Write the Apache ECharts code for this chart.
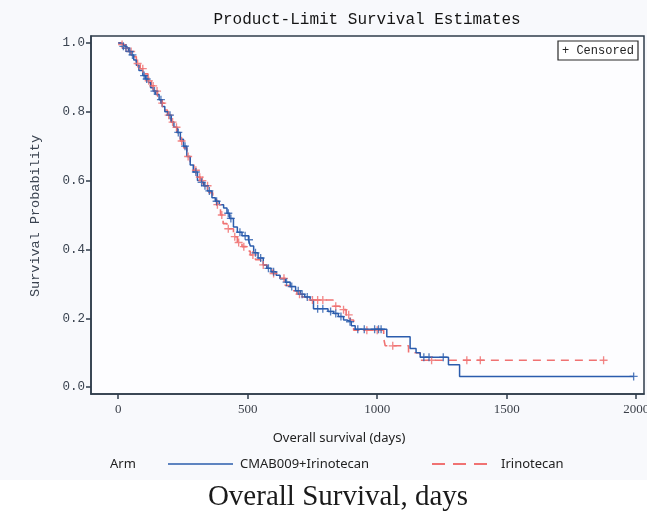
<!DOCTYPE html>
<html>
<head>
<meta charset="utf-8">
<script src="https://cdn.jsdelivr.net/npm/echarts@6/dist/echarts.min.js"></script>
<style>html,body{margin:0;padding:0;background:#fff}#c{width:647px;height:512px}</style>
</head>
<body>
<div id="c"></div>
<script>
// ---- data ----
const xTicks = [0, 500, 1000, 1500, 2000];
const yTicks = [0, 0.2, 0.4, 0.6, 0.8, 1.0];
const armNames = ['CMAB009+Irinotecan', 'Irinotecan'];

// Kaplan-Meier step points [day, survival]
const blueSteps = [[0,1.0],[10,0.995],[20,0.99],[30,0.985],[40,0.975],[50,0.965],[60,0.95],[70,0.935],[80,0.92],[95,0.905],[105,0.895],[117,0.885],[125,0.87],[135,0.86],[145,0.85],[158,0.835],[170,0.815],[180,0.8],[193,0.79],[205,0.77],[215,0.755],[227,0.74],[240,0.72],[252,0.7],[265,0.67],[278,0.645],[290,0.625],[306,0.6],[318,0.595],[330,0.585],[345,0.57],[362,0.55],[375,0.54],[390,0.53],[407,0.52],[420,0.505],[430,0.49],[445,0.465],[460,0.45],[478,0.44],[503,0.428],[510,0.41],[523,0.39],[540,0.375],[560,0.355],[574,0.345],[590,0.335],[610,0.325],[625,0.315],[645,0.305],[664,0.292],[685,0.28],[703,0.27],[720,0.262],[741,0.252],[754,0.228],[810,0.22],[832,0.214],[850,0.205],[870,0.195],[883,0.19],[900,0.178],[915,0.168],[1037,0.146],[1127,0.112],[1150,0.1],[1166,0.087],[1275,0.065],[1318,0.031],[1990,0.031]];
const blueCensored = [[20,0.99],[30,0.985],[45,0.975],[55,0.965],[100,0.905],[110,0.895],[140,0.86],[165,0.835],[200,0.79],[232,0.74],[258,0.7],[300,0.625],[322,0.595],[335,0.585],[352,0.57],[380,0.54],[425,0.505],[435,0.49],[470,0.45],[490,0.44],[505,0.428],[530,0.39],[550,0.375],[580,0.345],[600,0.335],[650,0.305],[670,0.292],[695,0.28],[710,0.27],[730,0.262],[770,0.228],[790,0.228],[820,0.22],[840,0.214],[860,0.205],[895,0.19],[925,0.168],[950,0.168],[990,0.168],[1005,0.168],[1015,0.168],[1180,0.087],[1200,0.087],[1255,0.087],[1990,0.031]];

const redSteps = [[0,1.0],[12,0.995],[25,0.985],[40,0.975],[55,0.96],[70,0.94],[85,0.925],[100,0.91],[115,0.89],[128,0.875],[140,0.86],[152,0.845],[165,0.825],[178,0.805],[190,0.79],[203,0.77],[215,0.755],[228,0.735],[240,0.715],[253,0.695],[265,0.67],[278,0.65],[292,0.63],[305,0.61],[318,0.6],[332,0.585],[350,0.565],[365,0.545],[380,0.53],[387,0.52],[395,0.5],[405,0.475],[420,0.46],[445,0.437],[460,0.42],[478,0.408],[495,0.395],[510,0.384],[530,0.37],[550,0.355],[574,0.34],[595,0.33],[625,0.316],[645,0.295],[664,0.28],[690,0.27],[710,0.262],[730,0.253],[830,0.235],[857,0.225],[880,0.21],[896,0.195],[909,0.165],[1025,0.141],[1031,0.12],[1121,0.1],[1166,0.078],[1874,0.078]];
const redCensored = [[15,0.995],[30,0.985],[50,0.975],[75,0.94],[95,0.925],[118,0.89],[135,0.875],[150,0.86],[170,0.825],[195,0.79],[210,0.77],[225,0.755],[245,0.715],[270,0.67],[300,0.63],[315,0.61],[325,0.6],[345,0.585],[383,0.53],[400,0.5],[425,0.46],[450,0.437],[465,0.42],[485,0.408],[520,0.384],[560,0.355],[600,0.33],[640,0.316],[700,0.27],[750,0.253],[770,0.253],[790,0.253],[840,0.235],[870,0.225],[890,0.21],[960,0.165],[1000,0.165],[1060,0.12],[1210,0.078],[1346,0.078],[1398,0.078],[1874,0.078]];

// ---- styles ----
const BLUE = '#2b5cad';
const RED = '#f07272';
const AXIS = '#2f3d4b';
const PLUS = 'path://M-1,-6H1V-1H6V1H1V6H-1V1H-6V-1H-1Z';

const chart = echarts.init(document.getElementById('c'), null, {renderer: 'canvas'});
chart.setOption({
  backgroundColor: '#ffffff',
  animation: false,
  grid: {left: 91, top: 36, right: 3, bottom: 118, outerBoundsMode: 'none', containLabel: false,
         show: true, borderColor: AXIS, borderWidth: 1.5, backgroundColor: '#fdfdff'},
  xAxis: {
    type: 'value', min: -105, max: 2030,
    axisLine: {show: true, onZero: false, lineStyle: {color: AXIS, width: 1.5}},
    axisTick: {show: true, length: 5, customValues: xTicks, lineStyle: {color: AXIS, width: 1.5}},
    axisLabel: {customValues: xTicks, formatter: v => String(v), hideOverlap: false, fontFamily: 'Liberation Serif', fontSize: 13, color: '#3a3f48', margin: 9},
    splitLine: {show: false}
  },
  yAxis: {
    type: 'value', min: -0.02, max: 1.02,
    axisLine: {show: true, onZero: false, lineStyle: {color: AXIS, width: 1.5}},
    axisTick: {show: true, length: 5, customValues: yTicks, lineStyle: {color: AXIS, width: 1.5}},
    axisLabel: {customValues: yTicks, formatter: v => v.toFixed(1), fontFamily: 'Liberation Mono', fontSize: 12.5, color: '#3a4350', margin: 6},
    splitLine: {show: false}
  },
  series: [
    {name: armNames[1], type: 'line', step: 'end', data: redSteps, symbol: 'none',
     lineStyle: {color: RED, width: 1.6, type: [8, 6]}, z: 2},
    {name: armNames[0], type: 'line', step: 'end', data: blueSteps, symbol: 'none',
     lineStyle: {color: BLUE, width: 1.5}, z: 3},
    {name: armNames[1] + ' censored', type: 'scatter', data: redCensored, symbol: PLUS, symbolSize: 8,
     itemStyle: {color: RED, opacity: 0.85}, z: 4},
    {name: armNames[0] + ' censored', type: 'scatter', data: blueCensored, symbol: PLUS, symbolSize: 8,
     itemStyle: {color: BLUE}, z: 5}
  ],
  graphic: [
    {type: 'rect', z: -10, silent: true, shape: {x: 0, y: 0, width: 647, height: 480}, style: {fill: '#f8f9fc'}},
    {type: 'text', x: 367, y: 20, style: {text: 'Product-Limit Survival Estimates', font: '16px "Liberation Mono"', fill: '#151515', textAlign: 'center', textVerticalAlign: 'middle'}},
    {type: 'rect', z: 10, shape: {x: 558, y: 41, width: 80, height: 19}, style: {fill: '#ffffff', stroke: '#2a2a2a', lineWidth: 1.2}},
    {type: 'text', z: 11, x: 598, y: 51, style: {text: '+ Censored', font: '12px "Liberation Mono"', fill: '#222', textAlign: 'center', textVerticalAlign: 'middle'}},
    {type: 'text', x: 35, y: 216, rotation: Math.PI / 2, style: {text: 'Survival Probability', font: '13.5px "Liberation Mono"', fill: '#3a4350', textAlign: 'center', textVerticalAlign: 'middle'}},
    {type: 'text', x: 339, y: 438, style: {text: 'Overall survival (days)', font: '13px "Noto Sans"', fill: '#222', textAlign: 'center', textVerticalAlign: 'middle'}},
    {type: 'text', x: 110, y: 464, style: {text: 'Arm', font: '13px "Noto Sans"', fill: '#222', textAlign: 'left', textVerticalAlign: 'middle'}},
    {type: 'line', shape: {x1: 168, y1: 464, x2: 233, y2: 464}, style: {stroke: BLUE, lineWidth: 1.6}},
    {type: 'text', x: 240, y: 464, style: {text: armNames[0], font: '13px "Noto Sans"', fill: '#222', textAlign: 'left', textVerticalAlign: 'middle'}},
    {type: 'line', shape: {x1: 432, y1: 464, x2: 494, y2: 464}, style: {stroke: RED, lineWidth: 1.8, lineDash: [13, 8]}},
    {type: 'text', x: 501, y: 464, style: {text: armNames[1], font: '13px "Noto Sans"', fill: '#222', textAlign: 'left', textVerticalAlign: 'middle'}},
    {type: 'text', x: 338, y: 497, style: {text: 'Overall Survival, days', font: '29px "Liberation Serif"', fill: '#1a1a1a', textAlign: 'center', textVerticalAlign: 'middle'}}
  ]
});
</script>
</body>
</html>
